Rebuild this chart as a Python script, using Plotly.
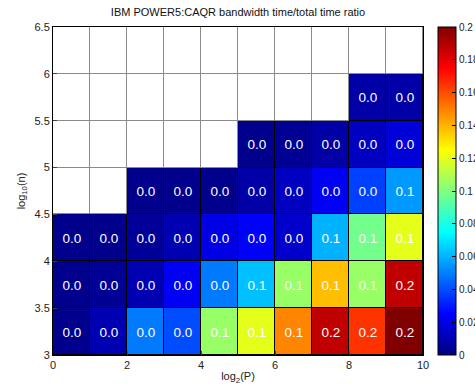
import plotly.graph_objects as go

# log2(P) cell centres and log10(n) cell centres
x_centers = [0.5, 1.5, 2.5, 3.5, 4.5, 5.5, 6.5, 7.5, 8.5, 9.5]
y_centers = [3.25, 3.75, 4.25, 4.75, 5.25, 5.75, 6.25]

N = None
row_325 = [0.0025, 0.010, 0.049, 0.040, 0.105, 0.120, 0.149, 0.1875, 0.165, 0.200]
row_375 = [0.0025, 0.004, 0.010, 0.0225, 0.049, 0.0625, 0.105, 0.1375, 0.105, 0.1875]
row_425 = [0.0025, 0.0025, 0.005, 0.010, 0.020, 0.025, 0.015, 0.060, 0.0975, 0.120]
row_475 = [N, N, 0.0025, 0.0025, 0.0025, 0.0075, 0.0125, 0.0225, 0.0375, 0.055]
row_525 = [N, N, N, N, N, 0.0025, 0.004, 0.0075, 0.0125, 0.0175]
row_575 = [N, N, N, N, N, N, N, N, 0.0075, 0.0075]
row_625 = [N, N, N, N, N, N, N, N, N, N]
z = [row_325, row_375, row_425, row_475, row_525, row_575, row_625]

x_ticks = [0, 2, 4, 6, 8, 10]
y_ticks = [3, 3.5, 4, 4.5, 5, 5.5, 6, 6.5]
y_ticklabels = ["3", "3.5", "4", "4.5", "5", "5.5", "6", "6.5"]
cb_ticks = [0, 0.02, 0.04, 0.06, 0.08, 0.1, 0.12, 0.14, 0.16, 0.18, 0.2]
cb_ticklabels = ["0", "0.02", "0.04", "0.06", "0.08", "0.1", "0.12", "0.14", "0.16", "0.18", "0.2"]

jet = [[0.0, "rgb(0,0,128)"], [0.125, "rgb(0,0,255)"], [0.375, "rgb(0,255,255)"],
       [0.625, "rgb(255,255,0)"], [0.875, "rgb(255,0,0)"], [1.0, "rgb(128,0,0)"]]

text = [[None if v is None else f"{v:.1f}" for v in row] for row in z]
base = [[0 for _ in row] for row in z]
under = [[None if v is None else 0 for v in row] for row in z]

fig = go.Figure()
# white background cells with grey gaps
fig.add_trace(go.Heatmap(x=x_centers, y=y_centers, z=base, xgap=1, ygap=1,
                         colorscale=[[0, "white"], [1, "white"]], showscale=False,
                         hoverinfo="skip"))
# black under-layer so data cells get black borders
fig.add_trace(go.Heatmap(x=x_centers, y=y_centers, z=under,
                         colorscale=[[0, "black"], [1, "black"]], showscale=False,
                         hoverinfo="skip"))
fig.add_trace(go.Heatmap(
    x=x_centers, y=y_centers, z=z, text=text, texttemplate="%{text}",
    textfont=dict(color="white", size=13.5, family="Liberation Sans, Arial"),
    colorscale=jet, zmin=0, zmax=0.2, xgap=1, ygap=1,
    colorbar=dict(
        tickvals=cb_ticks, ticktext=cb_ticklabels, ticks="inside", ticklen=4,
        tickcolor="black", outlinecolor="black", outlinewidth=1,
        thickness=18, x=1.0 + 15 / 370, xanchor="left", len=1.0, y=0.5, yanchor="middle",
        xpad=0, ypad=0,
        tickfont=dict(size=10, color="#222", family="Liberation Sans, Arial"),
    ),
))

fig.update_layout(
    width=475, height=390,
    margin=dict(l=53, r=52, t=27, b=35, autoexpand=False),
    plot_bgcolor="#8a8a8a", paper_bgcolor="white",
    title=dict(text="IBM POWER5:CAQR bandwidth time/total time ratio",
               x=0.5, xref="paper", y=1 - 12 / 390, yanchor="middle",
               font=dict(size=11, color="#111", family="Liberation Sans, Arial")),
    font=dict(family="Liberation Sans, Arial", size=11, color="#222"),
)
fig.update_xaxes(range=[0, 10], tickvals=x_ticks, ticks="inside", ticklen=4,
                 showline=True, linecolor="black", linewidth=1, mirror=True,
                 showgrid=False, zeroline=False,
                 title=dict(text="log<sub>2</sub>(P)", standoff=2, font=dict(size=11)))
fig.update_yaxes(range=[3, 6.5], tickvals=y_ticks, ticktext=y_ticklabels,
                 ticks="inside", ticklen=4,
                 showline=True, linecolor="black", linewidth=1, mirror=True,
                 showgrid=False, zeroline=False,
                 title=dict(text="log<sub>10</sub>(n)", standoff=6, font=dict(size=11)))

fig.write_html("out.html")
